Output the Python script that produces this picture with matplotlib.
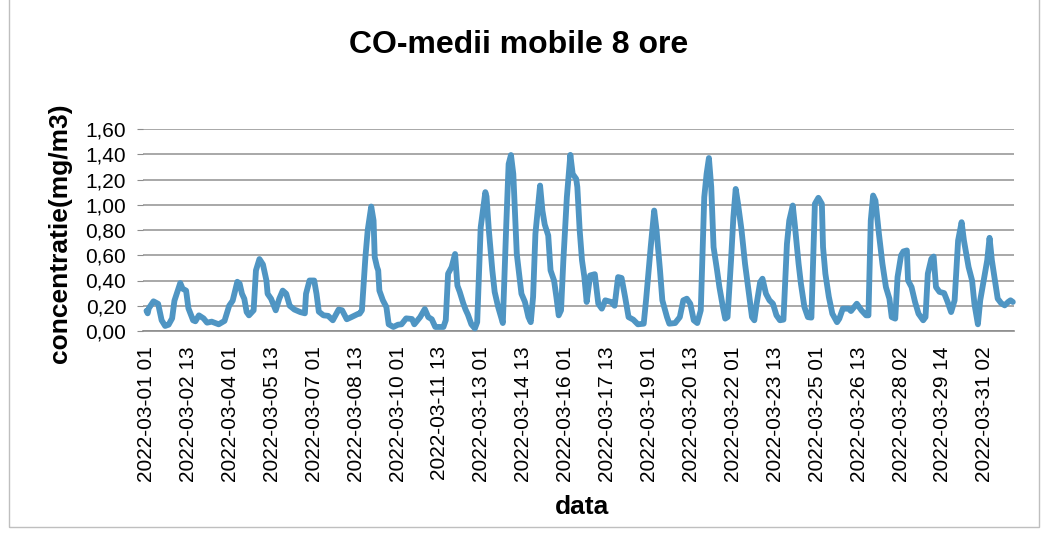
import matplotlib
matplotlib.use("Agg")
import matplotlib.pyplot as plt
from matplotlib.patches import Rectangle

# hours since 2022-03-01 01:00, CO 8h moving average (mg/m3)
hours = [0, 1, 2, 6, 10, 13, 16, 19, 22, 24, 29, 31, 34, 36, 40, 42, 45, 49, 52, 56,
         62, 67, 71, 74, 78, 80, 82, 84, 86, 88, 92, 94, 97, 100, 103, 104, 107, 111, 114, 117,
         120, 123, 127, 132, 136, 137, 140, 144, 146, 148, 152, 156, 160, 165, 168, 172, 176, 182, 183, 185,
         188, 190, 193, 195, 196, 198, 199, 200, 203, 206, 208, 212, 216, 219, 223, 228, 230, 235, 239, 242,
         245, 248, 255, 257, 259, 262, 265, 267, 269, 272, 274, 276, 279, 282, 284, 287, 291, 292, 294, 297,
         299, 302, 306, 309, 311, 313, 315, 318, 320, 322, 325, 328, 330, 332, 334, 338, 340, 342, 345, 347,
         350, 352, 354, 356, 358, 361, 364, 366, 369, 370, 372, 374, 376, 378, 381, 385, 388, 391, 394, 399,
         402, 405, 408, 411, 414, 418, 422, 427, 429, 433, 436, 438, 441, 443, 447, 449, 454, 458, 461, 464,
         467, 470, 473, 476, 479, 481, 483, 485, 487, 490, 492, 495, 497, 499, 502, 504, 506, 508, 511, 514,
         517, 520, 522, 524, 527, 529, 532, 535, 538, 541, 544, 547, 550, 552, 555, 557, 560, 562, 565, 568,
         571, 574, 577, 580, 581, 583, 586, 589, 593, 595, 598, 603, 605, 610, 614, 618, 620, 622, 624, 626,
         629, 632, 635, 638, 640, 643, 645, 648, 650, 653, 654, 657, 660, 663, 667, 669, 671, 674, 676, 678,
         681, 685, 688, 691, 694, 697, 700, 702, 706, 709, 711, 714, 716, 719, 722, 724, 726, 729, 731, 734,
         737, 740, 742, 744]
co = [0.16, 0.14, 0.18, 0.235, 0.215, 0.085, 0.04, 0.05, 0.10, 0.24, 0.38, 0.335, 0.32, 0.18, 0.085, 0.077, 0.124, 0.10, 0.066, 0.074,
      0.053, 0.08, 0.20, 0.24, 0.39, 0.375, 0.295, 0.255, 0.15, 0.124, 0.164, 0.48, 0.57, 0.527, 0.40, 0.295, 0.255, 0.164, 0.255, 0.32,
      0.295, 0.20, 0.17, 0.15, 0.14, 0.295, 0.40, 0.40, 0.295, 0.153, 0.124, 0.12, 0.085, 0.17, 0.164, 0.093, 0.11, 0.137, 0.137, 0.164,
      0.585, 0.80, 0.986, 0.875, 0.585, 0.506, 0.48, 0.32, 0.243, 0.19, 0.053, 0.032, 0.05, 0.053, 0.10, 0.095, 0.053, 0.11, 0.174, 0.11,
      0.093, 0.032, 0.032, 0.085, 0.454, 0.506, 0.61, 0.36, 0.31, 0.22, 0.17, 0.13, 0.053, 0.02, 0.07, 0.82, 1.10, 1.065, 0.80, 0.48,
      0.31, 0.19, 0.063, 0.85, 1.323, 1.394, 1.244, 0.61, 0.454, 0.295, 0.23, 0.11, 0.07, 0.27, 0.77, 1.152, 0.954, 0.843, 0.757, 0.48,
      0.40, 0.27, 0.124, 0.164, 0.56, 1.06, 1.395, 1.244, 1.205, 1.14, 0.80, 0.56, 0.43, 0.23, 0.44, 0.45, 0.216, 0.177, 0.243, 0.23,
      0.20, 0.427, 0.42, 0.27, 0.11, 0.09, 0.053, 0.058, 0.243, 0.664, 0.954, 0.80, 0.48, 0.243, 0.11, 0.058, 0.063, 0.11, 0.243, 0.256,
      0.216, 0.085, 0.063, 0.164, 1.06, 1.244, 1.37, 1.14, 0.664, 0.48, 0.348, 0.19, 0.098, 0.11, 0.56, 0.90, 1.125, 1.007, 0.80, 0.533,
      0.32, 0.11, 0.085, 0.216, 0.387, 0.414, 0.295, 0.243, 0.216, 0.124, 0.085, 0.09, 0.69, 0.875, 0.994, 0.82, 0.533, 0.375, 0.19, 0.11,
      0.106, 1.007, 1.055, 1.007, 0.664, 0.454, 0.27, 0.137, 0.07, 0.098, 0.177, 0.177, 0.158, 0.216, 0.164, 0.124, 0.124, 0.875, 1.073, 1.033,
      0.77, 0.533, 0.348, 0.256, 0.11, 0.098, 0.427, 0.598, 0.63, 0.638, 0.40, 0.348, 0.23, 0.137, 0.085, 0.11, 0.454, 0.572, 0.59, 0.348,
      0.31, 0.30, 0.23, 0.15, 0.243, 0.717, 0.862, 0.717, 0.506, 0.40, 0.216, 0.053, 0.243, 0.40, 0.56, 0.738, 0.56, 0.375, 0.256, 0.22,
      0.203, 0.23, 0.243, 0.23]

tick_hours = list(range(0, 721, 36))
tick_labels = ["2022-03-01 01", "2022-03-02 13", "2022-03-04 01", "2022-03-05 13",
               "2022-03-07 01", "2022-03-08 13", "2022-03-10 01", "2022-03-11 13",
               "2022-03-13 01", "2022-03-14 13", "2022-03-16 01", "2022-03-17 13",
               "2022-03-19 01", "2022-03-20 13", "2022-03-22 01", "2022-03-23 13",
               "2022-03-25 01", "2022-03-26 13", "2022-03-28 02", "2022-03-29 14",
               "2022-03-31 02"]
y_ticks = [0, 0.2, 0.4, 0.6, 0.8, 1.0, 1.2, 1.4, 1.6]

plt.rcParams['font.family'] = ['Liberation Sans', 'DejaVu Sans']

fig = plt.figure(figsize=(10.56, 5.33), dpi=100)
W, H = 1056, 533

# chart border
fig.patches.append(Rectangle((9 / W, 6 / H), 1030 / W, 1.2, transform=fig.transFigure,
                             fill=False, edgecolor='#bfbfbf', lw=1))

ax = fig.add_axes([143 / W, (H - 331) / H, 871 / W, 202 / H])
ax.plot(hours, co, color='#4f95c3', lw=4.2, solid_joinstyle='round', solid_capstyle='round',
        clip_on=False, zorder=3)

ax.set_xlim(-3, 745)
ax.set_ylim(0, 1.6)
ax.set_yticks(y_ticks)
ax.set_yticklabels([f"{v:.2f}".replace('.', ',') for v in y_ticks], fontsize=15)
ax.set_xticks(tick_hours)
ax.set_xticklabels(tick_labels, rotation=90, fontsize=15, va='top', ha='center')
ax.tick_params(axis='x', length=0, pad=11)
ax.tick_params(axis='y', length=4, color='#8c8c8c', pad=8)
ax.grid(axis='y', color='#9a9a9a', lw=1.2)
ax.set_axisbelow(True)
for s in ['left', 'right', 'top']:
    ax.spines[s].set_visible(False)
ax.spines['bottom'].set_color('#8c8c8c')
ax.spines['bottom'].set_linewidth(1.2)

fig.text(519 / W, 1 - 45 / H, "CO-medii mobile 8 ore", fontsize=23, fontweight='bold',
         ha='center', va='center')
fig.text(60 / W, 1 - 233 / H, "concentratie(mg/m3)", fontsize=19, fontweight='bold',
         rotation=90, ha='center', va='center')
fig.text(582 / W, 1 - 507 / H, "data", fontsize=19, fontweight='bold', ha='center', va='center')

fig.savefig("out.png", dpi=100)
